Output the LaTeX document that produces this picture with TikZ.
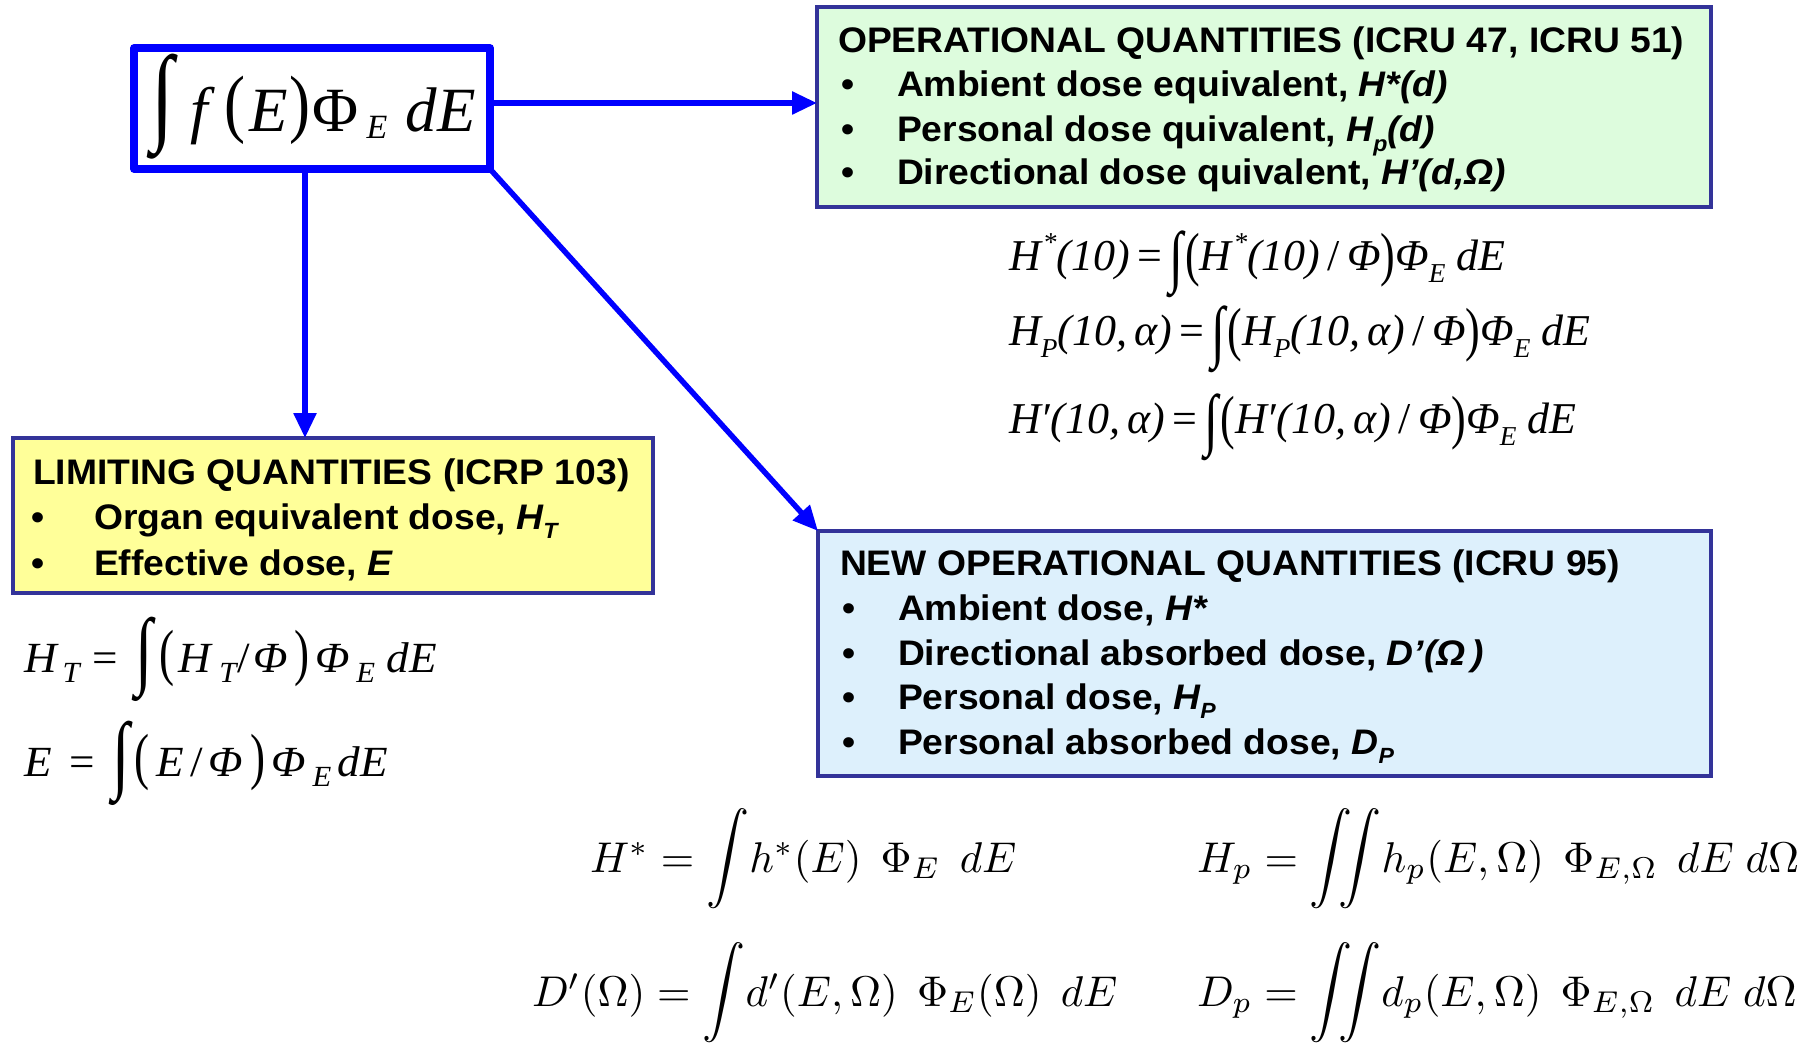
\documentclass[tikz,border=0pt]{standalone}
\usepackage{amsmath}
\usepackage[no-math]{fontspec}
\usepackage{graphicx}
\setmainfont{Liberation Sans}
\newfontfamily\tmsfont{Liberation Serif}
\newfontfamily\tmswide[FakeStretch=1.05]{Liberation Serif}
\newfontfamily\boxfont[FakeStretch=1.05]{Liberation Sans}
\usetikzlibrary{arrows.meta}
\definecolor{bord}{RGB}{51,51,153}
\definecolor{gfill}{RGB}{221,252,221}
\definecolor{yfill}{RGB}{255,255,153}
\definecolor{bfill}{RGB}{221,240,252}
\newcommand\at[2]{\makebox[0pt][l]{\kern#1pt\relax#2}}
\newcommand\sbs[1]{\raisebox{-0.28em}{\scalebox{0.62}{#1}}}
\newcommand\sps[1]{\raisebox{0.42em}{\scalebox{0.62}{#1}}}
\newcommand\lsub[1]{\raisebox{-10pt}{\scalebox{0.68}{#1}}}
\newcommand\Int{\raisebox{-0.22em}{\scalebox{1.15}[1.55]{\upshape ∫}}}
\newcommand\Lp{\raisebox{-0.1em}{\scalebox{1}[1.35]{\upshape (}}}
\newcommand\Rp{\raisebox{-0.1em}{\scalebox{1}[1.35]{\upshape )}}}
\newcommand\LInt{\raisebox{-6pt}{\scalebox{1.4}[2.0]{\upshape ∫}}}
\newcommand\LLp{\raisebox{-1pt}{\scalebox{1}[1.45]{\upshape (}}}
\newcommand\LRp{\raisebox{-1pt}{\scalebox{1}[1.45]{\upshape )}}}
\newcommand\BI{\mathop{\raisebox{0.5pt}{\scalebox{1}[1.05]{$\displaystyle\int$}}}\nolimits\!}
\newcommand\BII{\mathop{\raisebox{0.5pt}{\scalebox{1}[1.05]{$\displaystyle\iint$}}}\nolimits\!}
\tikzset{
  every node/.style={outer sep=0pt},
  lbl/.style={anchor=base west, inner sep=0pt, font=\boxfont\bfseries\fontsize{35.5}{40}\selectfont},
  panel/.style={draw=bord, line width=3.5pt, anchor=north west, inner sep=0pt},
  arr/.style={draw=blue, line width=5.5pt, -{Triangle[length=25pt,width=22pt,fill=blue]}},
  tmsf/.style={anchor=base west, inner sep=0pt, font=\tmsfont\itshape\fontsize{44}{50}\selectfont},
  tmsl/.style={anchor=base west, inner sep=0pt, font=\tmswide\itshape\fontsize{43}{50}\selectfont},
  cmf/.style={anchor=base west, inner sep=0pt},
}
\begin{document}
\begin{tikzpicture}[x=1pt,y=-1pt]
\useasboundingbox (0,0) rectangle (1806,1043);
\fill[white] (0,0) rectangle (1806,1043);

% source box
\node[draw=blue, line width=7.5pt, line join=round, anchor=north west, inner sep=0pt,
      minimum width=356pt, minimum height=121pt] (src) at (134,48) {};
\node[anchor=base west, inner sep=0pt, font=\tmsfont\fontsize{63}{63}\selectfont] (srcf) at (0,132)
  {\at{151}{\raisebox{1pt}{\scalebox{1.3}[1.7]{∫}}}%
   \at{190}{\textit{f}}%
   \at{224}{\raisebox{3pt}{\scalebox{1}[1.2]{(}}}%
   \at{249}{\textit{E}}%
   \at{289}{\raisebox{3pt}{\scalebox{1}[1.2]{)}}}%
   \at{312}{Φ}%
   \at{366}{\raisebox{-7pt}{\fontsize{34}{34}\selectfont\textit{E}}}%
   \at{405}{\textit{dE}}};

% panels
\node[panel, fill=gfill, minimum width=894pt, minimum height=200pt] (ops) at (817,7) {};
\node[panel, fill=yfill, minimum width=640pt, minimum height=155pt] (lim) at (13,438) {};
\node[panel, fill=bfill, minimum width=893pt, minimum height=245pt] (new) at (818,531) {};

% arrows
\coordinate (s1) at ([yshift=5.5pt]src.east);
\draw[arr] (s1) -- (s1 -| ops.west);
\coordinate (s2) at ([xshift=-7pt]src.south);
\draw[arr] (s2) -- (s2 |- lim.north);
\draw[arr] (src.south east) -- (new.north west);

% operational quantities
\node[lbl] (g0) at (838,53) {OPERATIONAL QUANTITIES (ICRU 47, ICRU 51)};
\node[lbl] (g1b) at (841,97) {•};
\node[lbl] (g1) at (897,97) {Ambient dose equivalent, \textit{H*(d)}};
\node[lbl] (g2b) at (841,142) {•};
\node[lbl] (g2) at (897,142) {Personal dose quivalent, \textit{H\sbs{p}(d)}};
\node[lbl] (g3b) at (841,185) {•};
\node[lbl] (g3) at (897,185) {Directional dose quivalent, \textit{H’(d,Ω)}};

% limiting quantities
\node[lbl] (y0) at (33,484) {LIMITING QUANTITIES (ICRP 103)};
\node[lbl] (y1b) at (31,529) {•};
\node[lbl] (y1) at (94,529) {Organ equivalent dose, \textit{H\sbs{T}}};
\node[lbl] (y2b) at (31,575) {•};
\node[lbl] (y2) at (94,575) {Effective dose, \textit{E}};

% new operational quantities
\node[lbl] (n0) at (840,575) {NEW OPERATIONAL QUANTITIES (ICRU 95)};
\node[lbl] (n1b) at (842,620) {•};
\node[lbl] (n1) at (898,620) {Ambient dose, \textit{H*}};
\node[lbl] (n2b) at (842,665) {•};
\node[lbl] (n2) at (898,665) {Directional absorbed dose, \textit{D’(Ω\,)}};
\node[lbl] (n3b) at (842,709) {•};
\node[lbl] (n3) at (898,709) {Personal dose, \textit{H\sbs{P}}};
\node[lbl] (n4b) at (842,754) {•};
\node[lbl] (n4) at (898,754) {Personal absorbed dose, \textit{D\sbs{P}}};

% ICRU 47/51 formulas
\node[tmsf] (e1) at (1009,270) {H\kern2pt\sps{*}(10)\,{\upshape =}\,\Int\kern2pt\Lp H\kern2pt\sps{*}(10)\,{\upshape /}\,Φ\Rp Φ\sbs{E}\ dE};
\node[tmsf] (e2) at (1009,345) {H\sbs{P}(10,\,α)\,{\upshape =}\,\Int\kern2pt\Lp H\sbs{P}(10,\,α)\,{\upshape /}\,Φ\Rp Φ\sbs{E}\ dE};
\node[tmsf] (e3) at (1009,433) {H′(10,\,α)\,{\upshape =}\,\Int\kern2pt\Lp H′(10,\,α)\,{\upshape /}\,Φ\Rp Φ\sbs{E}\ dE};

% limiting formulas
\node[tmsl] (l1) at (0,672)
  {\at{24}{H}\at{62}{\lsub{T}}\at{92}{\upshape =}\at{135}{\LInt}\at{159}{\LLp}\at{178}{H}\at{219}{\lsub{T}}%
   \at{237}{\upshape /}\at{253}{Φ}\at{294}{\LRp}\at{315}{Φ}\at{356}{\lsub{E}}\at{386}{dE}};
\node[tmsl] (l2) at (0,776)
  {\at{24}{E}\at{69}{\upshape =}\at{112}{\LInt}\at{134}{\LLp}\at{156}{E}\at{190}{\upshape /}\at{208}{Φ}%
   \at{250}{\LRp}\at{271}{Φ}\at{312}{\lsub{E}}\at{337}{dE}};

% ICRU 95 formulas
\node[cmf] (c1) at (590,872) {\scalebox{4.3}{$H^* = \BI h^*(E)\;\,\Phi_E\;\,dE$}};
\node[cmf] (c2) at (532,1006) {\scalebox{4.3}{$D'(\Omega) = \BI d'(E,\Omega)\;\,\Phi_E(\Omega)\;\,dE$}};
\node[cmf] (c3) at (1197,872) {\scalebox{4.3}{$H_p = \BII h_p(E,\Omega)\;\,\Phi_{E,\Omega}\;\,dE\;d\Omega$}};
\node[cmf] (c4) at (1197,1006) {\scalebox{4.3}{$D_p = \BII d_p(E,\Omega)\;\,\Phi_{E,\Omega}\;\,dE\;d\Omega$}};
\end{tikzpicture}
\end{document}
